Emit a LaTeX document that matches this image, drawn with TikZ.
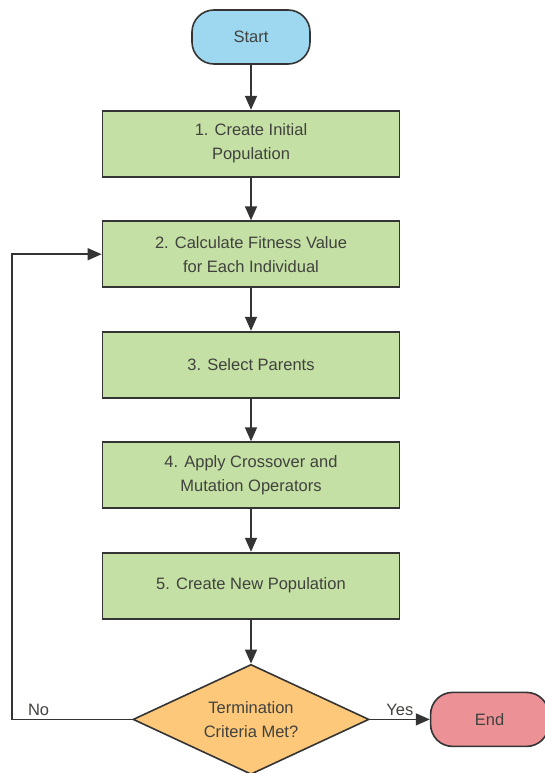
\documentclass[tikz,border=0pt]{standalone}
\usepackage{fontspec}
\setmainfont{Liberation Sans}
\usetikzlibrary{positioning}
\usetikzlibrary{shapes.geometric}
\usetikzlibrary{arrows.meta}
\definecolor{edge}{RGB}{52,52,52}
\definecolor{txt}{RGB}{64,66,62}
\definecolor{startblue}{RGB}{158,216,240}
\definecolor{stepgreen}{RGB}{197,224,164}
\definecolor{askorange}{RGB}{253,200,122}
\definecolor{stoppink}{RGB}{236,145,150}

\begin{document}
\begin{tikzpicture}[x=1pt, y=1pt,
                    font=\fontsize{16.5}{24}\selectfont,
                    terminal/.style={rectangle, rounded corners=22pt, draw=edge, line width=1.6pt, minimum width=118pt, minimum height=54pt, text=txt},
                    stepbox/.style={rectangle, draw=edge, line width=1.8pt, fill=stepgreen, minimum width=297pt, minimum height=66pt, align=center, text=txt},
                    ask/.style={diamond, shape aspect=2.1, draw=edge, line width=1.6pt, fill=askorange, minimum width=236pt, minimum height=110pt, inner sep=0pt, align=center, text=txt},
                    flow/.style={draw=edge, line width=1.5pt, -{Triangle[length=14pt, width=12pt]}}]
\useasboundingbox (0,0) rectangle (545,-773);
\node (start) [terminal, fill=startblue] at (251,-37) {Start};
\node (init) [stepbox, below=45pt of start] {1. Create Initial\\Population};
\node (fitness) [stepbox, below=42.7pt of init] {2. Calculate Fitness Value\\for Each Individual};
\node (parents) [stepbox, below=42.7pt of fitness] {3. Select Parents};
\node (cross) [stepbox, below=42.7pt of parents] {4. Apply Crossover and\\Mutation Operators};
\node (newpop) [stepbox, below=42.7pt of cross] {5. Create New Population};
\node (check) [ask, below=44pt of newpop] {Termination\\Criteria Met?};
\node (stop) [terminal, fill=stoppink, right=60pt of check] {End};
\draw[flow] (start) -- (init);
\draw[flow] (init) -- (fitness);
\draw[flow] (fitness) -- (parents);
\draw[flow] (parents) -- (cross);
\draw[flow] (cross) -- (newpop);
\draw[flow] (newpop) -- (check);
\draw[flow] (check.east) -- node[above, text=txt] {Yes} (stop.west);
\draw[flow] (check.west) -- node[pos=0.78, above, text=txt] {No} ++(-120,0) |- (fitness.west);
\end{tikzpicture}
\end{document}
